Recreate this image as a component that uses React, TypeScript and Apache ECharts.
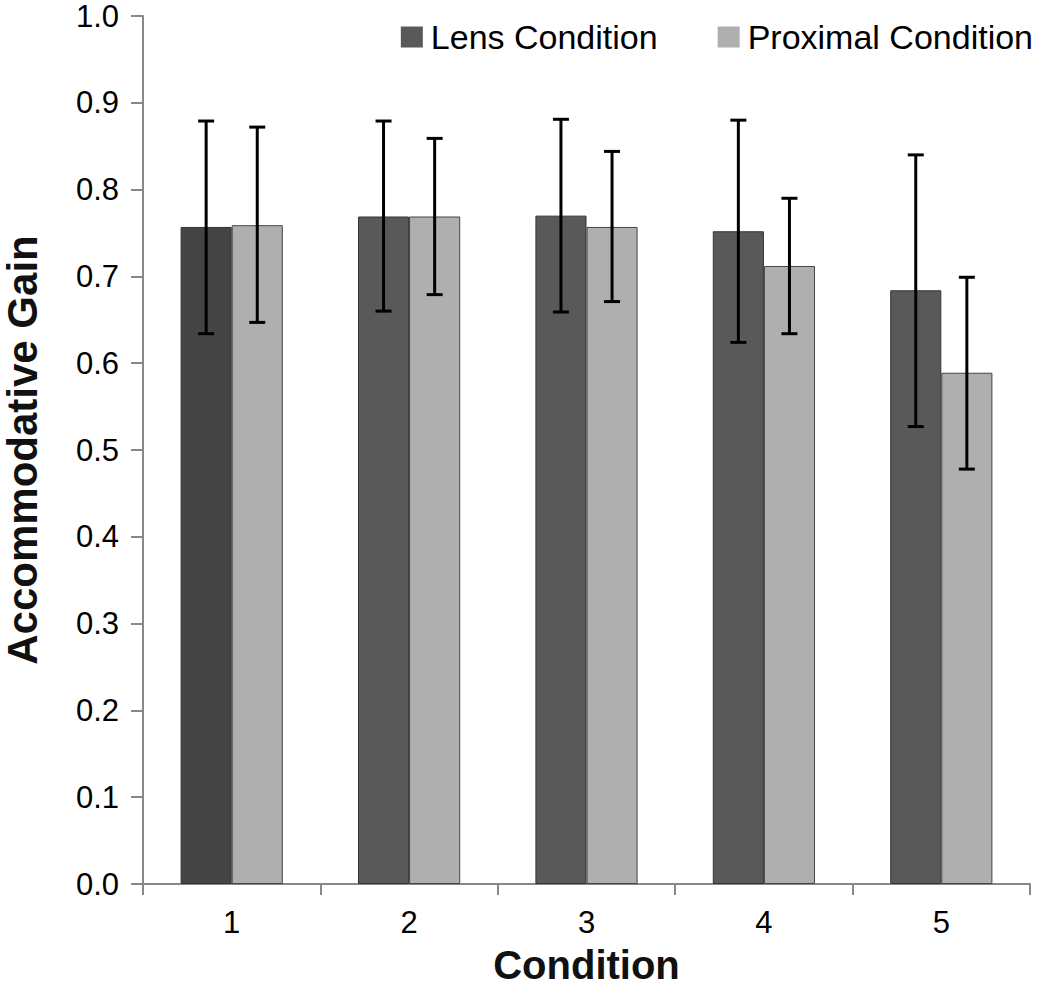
import React, { useEffect, useRef } from "react";
import * as echarts from "echarts";

const categories = ["1", "2", "3", "4", "5"];
const lensValues = [0.757, 0.769, 0.77, 0.752, 0.684];
const lensLow = [0.634, 0.66, 0.659, 0.624, 0.527];
const lensHigh = [0.879, 0.879, 0.881, 0.88, 0.84];
const proxValues = [0.759, 0.769, 0.757, 0.712, 0.589];
const proxLow = [0.647, 0.679, 0.671, 0.634, 0.478];
const proxHigh = [0.872, 0.859, 0.844, 0.79, 0.699];
const yTicks = [0, 0.1, 0.2, 0.3, 0.4, 0.5, 0.6, 0.7, 0.8, 0.9, 1.0];

const FONT = "'Liberation Sans', Arial, sans-serif";
const BAR_FRAC = 0.288;
const LENS_COLOR = "#595959";
const LENS_FIRST = "#444444";
const PROX_COLOR = "#afafaf";

function errorSeries(name: string, low: number[], high: number[], sign: number) {
  return {
    type: "custom",
    name: name + " error",
    z: 10,
    silent: true,
    encode: { x: 0, y: [1, 2] },
    data: categories.map((_, i) => [i, low[i], high[i]]),
    renderItem: (params: any, api: any) => {
      const idx = api.value(0);
      const bw = api.size([1, 0])[0];
      const off = (sign * bw * BAR_FRAC) / 2;
      const lo = api.coord([idx, api.value(1)]);
      const hi = api.coord([idx, api.value(2)]);
      const x = lo[0] + off;
      const cap = 8;
      const style = { stroke: "#000", lineWidth: 3 };
      return {
        type: "group",
        children: [
          { type: "line", shape: { x1: x, y1: lo[1], x2: x, y2: hi[1] }, style },
          { type: "line", shape: { x1: x - cap, y1: hi[1], x2: x + cap, y2: hi[1] }, style },
          { type: "line", shape: { x1: x - cap, y1: lo[1], x2: x + cap, y2: lo[1] }, style },
        ],
      };
    },
  };
}

export default function App() {
  const ref = useRef<HTMLDivElement>(null);
  useEffect(() => {
    if (!ref.current) return;
    const chart = echarts.init(ref.current, null, { renderer: "svg" });
    chart.setOption({
      animation: false,
      backgroundColor: "#ffffff",
      textStyle: { fontFamily: FONT },
      grid: {
        left: 143,
        right: 20,
        top: 16,
        bottom: 108,
        containLabel: false,
        outerBoundsMode: "none",
      },
      legend: {
        right: 12,
        top: 15,
        itemWidth: 22,
        itemHeight: 21,
        itemGap: 60,
        icon: "rect",
        data: [
          { name: "Lens Condition", itemStyle: { color: LENS_COLOR, borderWidth: 0 } },
          { name: "Proximal Condition", itemStyle: { color: PROX_COLOR, borderWidth: 0 } },
        ],
        textStyle: { fontSize: 34, color: "#000", fontFamily: FONT, padding: [0, 0, 0, 3] },
      },
      xAxis: {
        type: "category",
        data: categories,
        name: "Condition",
        nameLocation: "middle",
        nameGap: 61,
        nameTextStyle: { fontSize: 40, fontWeight: "bold", color: "#111", fontFamily: FONT },
        axisLine: { lineStyle: { color: "#888", width: 2 } },
        axisTick: { show: true, alignWithLabel: false, length: 11, lineStyle: { color: "#888", width: 2 } },
        axisLabel: { fontSize: 31, color: "#000", margin: 23, fontFamily: FONT },
        splitLine: { show: false },
      },
      yAxis: {
        type: "value",
        min: 0,
        max: 1,
        interval: 0.1,
        name: "Accommodative Gain",
        nameLocation: "middle",
        nameRotate: 90,
        nameGap: 100,
        nameTextStyle: { fontSize: 42, fontWeight: "bold", color: "#111", fontFamily: FONT },
        axisLine: { show: true, lineStyle: { color: "#888", width: 2 } },
        axisTick: { show: true, length: 12, lineStyle: { color: "#888", width: 2 } },
        axisLabel: {
          fontSize: 31,
          color: "#000",
          margin: 24,
          fontFamily: FONT,
          formatter: (v: number) => {
            const t = yTicks.find((k) => Math.abs(k - v) < 1e-6);
            return (t !== undefined ? t : v).toFixed(1);
          },
        },
        splitLine: { show: false },
      },
      series: [
        {
          type: "bar",
          name: "Lens Condition",
          barWidth: (BAR_FRAC * 100).toFixed(1) + "%",
          barGap: "0%",
          itemStyle: { color: LENS_COLOR, borderColor: "#333", borderWidth: 1 },
          data: lensValues.map((v, i) =>
            i === 0 ? { value: v, itemStyle: { color: LENS_FIRST } } : v
          ),
        },
        {
          type: "bar",
          name: "Proximal Condition",
          barWidth: (BAR_FRAC * 100).toFixed(1) + "%",
          barGap: "0%",
          itemStyle: { color: PROX_COLOR, borderColor: "#444", borderWidth: 1 },
          data: proxValues,
        },
        errorSeries("Lens Condition", lensLow, lensHigh, -1),
        errorSeries("Proximal Condition", proxLow, proxHigh, 1),
      ],
    });
    return () => chart.dispose();
  }, []);
  return (
    <div
      ref={ref}
      style={{ position: "fixed", left: 0, top: 0, width: 1050, height: 992, background: "#fff" }}
    />
  );
}
